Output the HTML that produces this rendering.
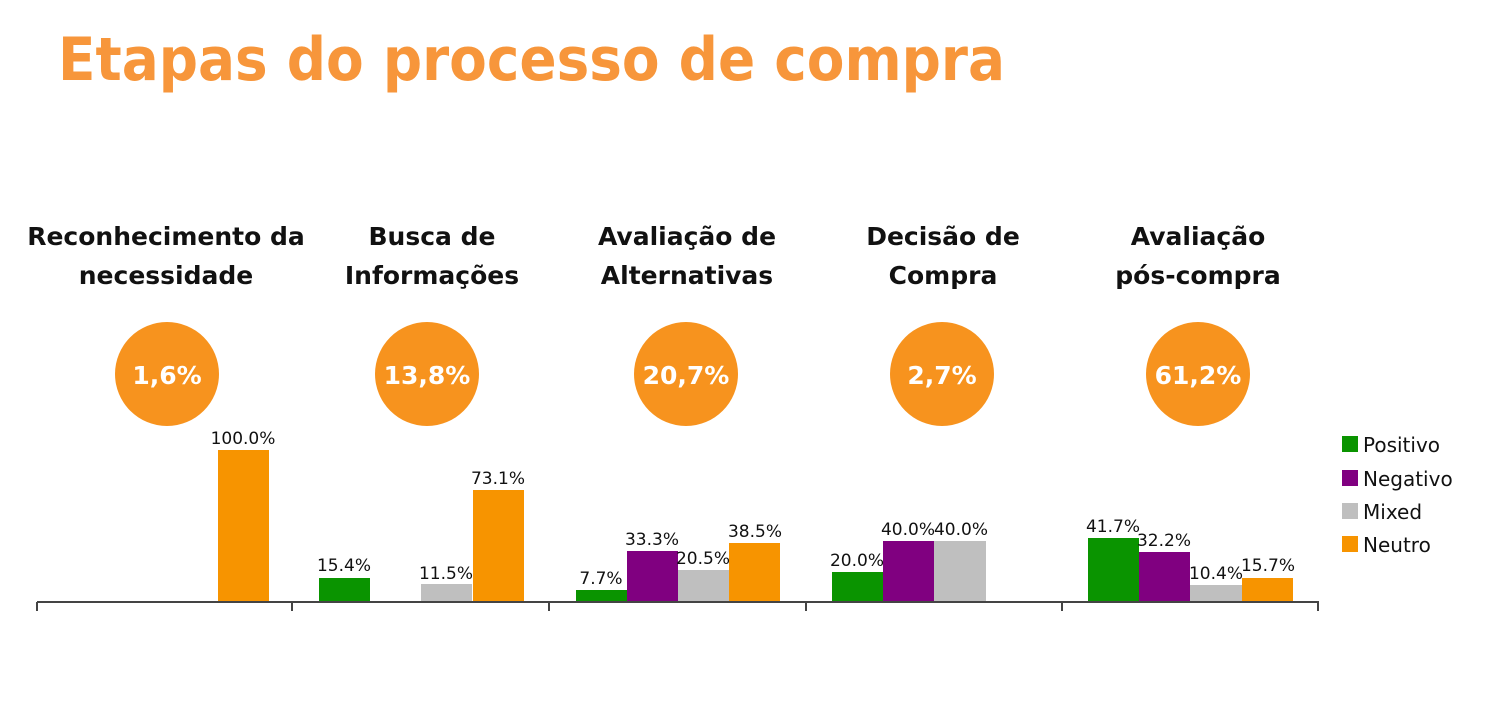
<!DOCTYPE html>
<html><head><meta charset="utf-8"><style>
body{margin:0;width:1498px;height:716px;background:#fff;overflow:hidden;font-family:"Liberation Sans","DejaVu Sans",sans-serif;}
</style></head><body>
<svg width="1498" height="716" xmlns="http://www.w3.org/2000/svg" font-family="'DejaVu Sans','Liberation Sans',sans-serif">
<text x="58" y="80" font-size="60" font-weight="bold" fill="#f7963b" textLength="947" lengthAdjust="spacingAndGlyphs">Etapas do processo de compra</text>
<g font-size="25" font-weight="bold" fill="#111" text-anchor="middle">
<text x="166" y="245">Reconhecimento da</text><text x="166" y="284">necessidade</text>
<text x="432" y="245">Busca de</text><text x="432" y="284">Informações</text>
<text x="687" y="245">Avaliação de</text><text x="687" y="284">Alternativas</text>
<text x="943" y="245">Decisão de</text><text x="943" y="284">Compra</text>
<text x="1198" y="245">Avaliação</text><text x="1198" y="284">pós-compra</text>
</g>
<g fill="#f7931e">
<circle cx="167" cy="374" r="52"/><circle cx="427" cy="374" r="52"/><circle cx="686" cy="374" r="52"/><circle cx="942" cy="374" r="52"/><circle cx="1198" cy="374" r="52"/>
</g>
<g font-size="25" font-weight="bold" fill="#fff" text-anchor="middle">
<text x="167" y="384">1,6%</text><text x="427" y="384">13,8%</text><text x="686" y="384">20,7%</text><text x="942" y="384">2,7%</text><text x="1198" y="384">61,2%</text>
</g>
<g>
<rect x="218" y="450" width="51" height="152" fill="#f79400"/>
<rect x="319" y="578" width="51" height="24" fill="#0a9400"/>
<rect x="421" y="584" width="51" height="18" fill="#bfbfbf"/>
<rect x="473" y="490" width="51" height="112" fill="#f79400"/>
<rect x="576" y="590" width="51" height="12" fill="#0a9400"/>
<rect x="627" y="551" width="51" height="51" fill="#800080"/>
<rect x="678" y="570" width="51" height="32" fill="#bfbfbf"/>
<rect x="729" y="543" width="51" height="59" fill="#f79400"/>
<rect x="832" y="572" width="51" height="30" fill="#0a9400"/>
<rect x="883" y="541" width="51" height="61" fill="#800080"/>
<rect x="934" y="541" width="52" height="61" fill="#bfbfbf"/>
<rect x="1088" y="538" width="51" height="64" fill="#0a9400"/>
<rect x="1139" y="552" width="51" height="50" fill="#800080"/>
<rect x="1190" y="585" width="52" height="17" fill="#bfbfbf"/>
<rect x="1242" y="578" width="51" height="24" fill="#f79400"/>
</g>
<g stroke="#444" stroke-width="2" fill="none">
<line x1="37" y1="602" x2="1319" y2="602"/>
<line x1="37" y1="602" x2="37" y2="611"/><line x1="292" y1="602" x2="292" y2="611"/><line x1="549" y1="602" x2="549" y2="611"/><line x1="806" y1="602" x2="806" y2="611"/><line x1="1062" y1="602" x2="1062" y2="611"/><line x1="1318" y1="602" x2="1318" y2="611"/>
</g>
<g font-size="17" fill="#111" text-anchor="middle">
<text x="243" y="444">100.0%</text>
<text x="344" y="571">15.4%</text>
<text x="446" y="579">11.5%</text>
<text x="498" y="484">73.1%</text>
<text x="601" y="584">7.7%</text>
<text x="652" y="545">33.3%</text>
<text x="703" y="564">20.5%</text>
<text x="755" y="537">38.5%</text>
<text x="857" y="566">20.0%</text>
<text x="908" y="535">40.0%</text>
<text x="961" y="535">40.0%</text>
<text x="1113" y="532">41.7%</text>
<text x="1164" y="546">32.2%</text>
<text x="1216" y="579">10.4%</text>
<text x="1268" y="571">15.7%</text>
</g>
<g font-size="20" fill="#111">
<rect x="1342" y="436" width="16" height="16" fill="#0a9400"/><text x="1363" y="452">Positivo</text>
<rect x="1342" y="470" width="16" height="16" fill="#800080"/><text x="1363" y="486">Negativo</text>
<rect x="1342" y="503" width="16" height="16" fill="#bfbfbf"/><text x="1363" y="519">Mixed</text>
<rect x="1342" y="536" width="16" height="16" fill="#f79400"/><text x="1363" y="552">Neutro</text>
</g>
</svg>
</body></html>
